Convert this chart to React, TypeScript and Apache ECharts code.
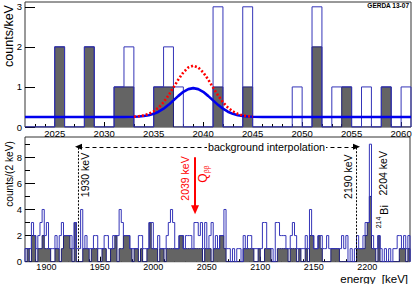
import React, { useEffect, useRef } from 'react';
import * as echarts from 'echarts';

// ---------- upper panel: 1 keV bins starting at 2022 keV ----------
const topBinStart = 2022;
const topBinWidth = 1;
// open histogram (without PSD), counts per 1 keV bin, bins 2022..2060
const topOpen = [0, 0, 0, 2, 0, 0, 2, 0, 0, 1, 2, 0, 0, 1, 2, 1, 0, 0, 0, 3, 0, 0, 3, 0, 0, 0, 0, 1, 0, 3, 0, 1, 1, 0, 1, 0, 1, 0, 1];
// filled histogram (with PSD)
const topDark = [0, 0, 0, 2, 0, 0, 2, 0, 0, 1, 1, 0, 0, 1, 1, 0, 0, 0, 0, 1, 0, 0, 1, 0, 0, 0, 0, 0, 0, 2, 0, 0, 1, 0, 0, 0, 1, 0, 0];
const topXLabels = [2025, 2030, 2035, 2040, 2045, 2050, 2055, 2060];
const topYLabels = [0, 1, 2, 3];

// expectation curves (counts/keV)
const blueCurveE = [2022, 2032, 2033, 2033.5, 2034, 2034.5, 2035, 2035.5, 2036, 2036.5, 2037, 2037.5, 2038, 2038.5, 2039, 2039.5, 2040, 2040.5, 2041, 2041.5, 2042, 2042.5, 2043, 2043.5, 2044, 2044.5, 2045, 2046, 2061];
const blueCurveY = [0.25, 0.251, 0.255, 0.261, 0.273, 0.294, 0.328, 0.382, 0.457, 0.553, 0.664, 0.777, 0.877, 0.945, 0.97, 0.945, 0.877, 0.777, 0.664, 0.553, 0.457, 0.382, 0.328, 0.294, 0.273, 0.261, 0.255, 0.251, 0.25];
const redCurveE = [2033, 2033.5, 2034, 2034.5, 2035, 2035.5, 2036, 2036.5, 2037, 2037.5, 2038, 2038.5, 2039, 2039.5, 2040, 2040.5, 2041, 2041.5, 2042, 2042.5, 2043, 2043.5, 2044, 2044.5, 2045];
const redCurveY = [0.259, 0.27, 0.29, 0.327, 0.39, 0.485, 0.618, 0.789, 0.986, 1.187, 1.365, 1.486, 1.53, 1.486, 1.365, 1.187, 0.986, 0.789, 0.618, 0.485, 0.39, 0.327, 0.29, 0.27, 0.259];

// ---------- lower panel: 2 keV bins starting at 1880 keV ----------
const bottomBinStart = 1880;
const bottomBinWidth = 2;
const bottomOpen = [
  1, 1, 1, 3, 2, 1, 2, 3, 4, 2,
  3, 1, 1, 1, 2, 1, 2, 3, 2, 2,
  2, 2, 1, 3, 1, 1, 4, 1, 2, 1,
  1, 1, 2, 2, 1, 1, 1, 2, 2, 1,
  1, 2, 2, 2, 4, 3, 2, 2, 2, 1,
  1, 1, 1, 2, 2, 1, 1, 1, 3, 3,
  1, 1, 2, 1, 1, 1, 2, 3, 4, 3,
  1, 1, 2, 2, 1, 2, 2, 2, 1, 3,
  3, 2, 3, 1, 3, 1, 2, 3, 1, 2,
  1, 2, 2, 4, 1, 1, 0, 1, 0, 1,
  1, 0, 2, 1, 2, 2, 1, 1, 1, 1,
  1, 3, 3, 1, 1, 1, 0, 3, 3, 2,
  2, 2, 1, 1, 2, 3, 2, 1, 1, 1,
  1, 2, 1, 4, 2, 1, 1, 2, 2, 1,
  1, 2, 1, 1, 1, 1, 1, 1, 2, 1,
  2, 0, 1, 0, 1, 2, 1, 1, 2, 3,
  3, 9, 2, 1, 1, 2, 1, 0, 1, 0,
  1, 0, 1, 1, 2, 2, 1, 2, 1, 2,
];
const bottomDark = [
  0, 1, 0, 2, 2, 0, 1, 1, 2, 1,
  1, 1, 0, 0, 1, 1, 0, 1, 2, 2,
  2, 1, 0, 3, 0, 0, 0, 1, 1, 1,
  0, 1, 1, 1, 0, 0, 1, 1, 0, 0,
  1, 1, 2, 0, 1, 1, 2, 2, 2, 1,
  0, 1, 1, 0, 1, 0, 0, 1, 3, 1,
  1, 1, 0, 1, 1, 0, 1, 1, 1, 1,
  1, 1, 2, 2, 1, 1, 1, 1, 1, 1,
  1, 1, 1, 0, 1, 1, 1, 0, 1, 1,
  1, 2, 2, 1, 0, 0, 0, 0, 0, 0,
  0, 0, 1, 1, 1, 1, 1, 0, 0, 1,
  0, 0, 1, 1, 1, 0, 0, 0, 1, 1,
  1, 1, 1, 0, 1, 1, 1, 0, 1, 0,
  0, 1, 0, 2, 2, 1, 1, 2, 1, 0,
  0, 0, 0, 1, 1, 1, 1, 0, 0, 0,
  0, 0, 0, 0, 0, 1, 1, 1, 1, 2,
  3, 5, 1, 1, 0, 2, 0, 0, 0, 0,
  0, 0, 0, 0, 0, 1, 1, 1, 0, 1,
];
const bottomXLabels = [1900, 1950, 2000, 2050, 2100, 2150, 2200];
const bottomYLabels = [0, 2, 4, 6, 8];
const bottomYMinor = [1, 3, 5, 7, 9];
const bgWindow = [1930, 2190];
const arrowLevel = 8.8;
const qbb = 2039;
const qArrow = [8.0, 3.97];

const FONT = '"Liberation Sans", Arial, Helvetica, sans-serif';

function stepData(start: number, width: number, vals: number[]) {
  const pts: number[][] = [[start, 0]];
  vals.forEach((v, i) => pts.push([start + i * width, v]));
  const end = start + vals.length * width;
  pts.push([end, vals[vals.length - 1]]);
  pts.push([end, 0]);
  return pts;
}

function range(a: number, b: number, step: number, skip: number) {
  const out: number[] = [];
  for (let v = a; v <= b; v += step) if (v % skip !== 0) out.push(v);
  return out;
}

const OPEN_COLOR = '#3535b8';
const DARK_FILL = '#646464';
const DARK_LINE = '#1c1c78';

function rotText(text: string, x: number, y: number, size: number, fill = '#000') {
  return {
    type: 'text',
    x,
    y,
    rotation: Math.PI / 2,
    silent: true,
    z: 100,
    style: {
      text,
      fontSize: size,
      fontFamily: FONT,
      fill,
      align: 'center',
      verticalAlign: 'middle',
      textAlign: 'center',
      textVerticalAlign: 'middle',
    },
  };
}

const plain = (v: number) => String(v);

export default function App() {
  const ref = useRef<HTMLDivElement>(null);
  useEffect(() => {
    const chart = echarts.init(ref.current!, null, { renderer: 'svg' });
    const tickStyle = { color: '#000', width: 1 };
    const noAxis = { axisLine: { show: false }, splitLine: { show: false } };
    const option: any = {
      animation: false,
      textStyle: { fontFamily: FONT },
      grid: [
        { left: 25, top: 2, width: 386, height: 125, show: true, borderColor: '#333', borderWidth: 1, backgroundColor: 'transparent' },
        { left: 25, top: 137, width: 385, height: 124.7, show: true, borderColor: '#333', borderWidth: 1, backgroundColor: 'transparent' },
      ],
      xAxis: [
        {
          gridIndex: 0, type: 'value', min: 2022, max: 2061, position: 'bottom', ...noAxis,
          axisTick: { inside: true, length: 5, lineStyle: tickStyle, customValues: topXLabels },
          axisLabel: { customValues: topXLabels, formatter: plain, fontSize: 9.5, color: '#000', margin: 1, fontFamily: FONT },
        },
        {
          gridIndex: 0, type: 'value', min: 2022, max: 2061, position: 'bottom', ...noAxis,
          axisTick: { inside: true, length: 3, lineStyle: tickStyle, customValues: range(2023, 2060, 1, 5) },
          axisLabel: { show: false },
        },
        {
          gridIndex: 1, type: 'value', min: 1880, max: 2240, position: 'bottom', ...noAxis,
          axisTick: { inside: true, length: 5, lineStyle: tickStyle, customValues: bottomXLabels },
          axisLabel: { customValues: bottomXLabels, formatter: plain, fontSize: 9, lineHeight: 9, color: '#000', margin: 1, fontFamily: FONT },
        },
        {
          gridIndex: 1, type: 'value', min: 1880, max: 2240, position: 'bottom', ...noAxis,
          axisTick: { inside: true, length: 2.5, lineStyle: tickStyle, customValues: range(1890, 2230, 10, 50) },
          axisLabel: { show: false },
        },
      ],
      yAxis: [
        {
          gridIndex: 0, type: 'value', min: 0, max: 3.12, position: 'left', ...noAxis,
          axisTick: { inside: true, length: 10, lineStyle: tickStyle, customValues: topYLabels },
          axisLabel: { customValues: topYLabels, formatter: plain, fontSize: 9.5, color: '#000', margin: 3, fontFamily: FONT },
        },
        {
          gridIndex: 1, type: 'value', min: 0, max: 9.55, position: 'left', ...noAxis,
          axisTick: { inside: true, length: 10, lineStyle: tickStyle, customValues: bottomYLabels },
          axisLabel: { customValues: bottomYLabels, formatter: plain, fontSize: 9.5, color: '#000', margin: 3, fontFamily: FONT },
        },
        {
          gridIndex: 1, type: 'value', min: 0, max: 9.55, position: 'left', ...noAxis,
          axisTick: { inside: true, length: 5, lineStyle: tickStyle, customValues: bottomYMinor },
          axisLabel: { show: false },
        },
      ],
      series: [
        {
          type: 'line', xAxisIndex: 0, yAxisIndex: 0, step: 'end', silent: true, showSymbol: false, symbol: 'none',
          data: stepData(topBinStart, topBinWidth, topDark),
          lineStyle: { color: DARK_LINE, width: 1 },
          areaStyle: { color: DARK_FILL, opacity: 1 },
        },
        {
          type: 'line', xAxisIndex: 0, yAxisIndex: 0, step: 'end', silent: true, showSymbol: false, symbol: 'none',
          data: stepData(topBinStart, topBinWidth, topOpen),
          lineStyle: { color: OPEN_COLOR, width: 1 },
        },
        {
          type: 'line', xAxisIndex: 0, yAxisIndex: 0, silent: true, showSymbol: false, symbol: 'none',
          data: blueCurveE.map((e, i) => [e, blueCurveY[i]]),
          lineStyle: { color: '#0000ee', width: 2.6 },
        },
        {
          type: 'line', xAxisIndex: 0, yAxisIndex: 0, silent: true, showSymbol: false, symbol: 'none',
          data: redCurveE.map((e, i) => [e, redCurveY[i]]),
          lineStyle: { color: '#ff0000', width: 2.6, type: [2, 2] },
        },
        {
          type: 'line', xAxisIndex: 2, yAxisIndex: 1, step: 'end', silent: true, showSymbol: false, symbol: 'none',
          data: stepData(bottomBinStart, bottomBinWidth, bottomDark),
          lineStyle: { color: DARK_LINE, width: 1 },
          areaStyle: { color: DARK_FILL, opacity: 1 },
        },
        {
          type: 'line', xAxisIndex: 2, yAxisIndex: 1, step: 'end', silent: true, showSymbol: false, symbol: 'none',
          data: stepData(bottomBinStart, bottomBinWidth, bottomOpen),
          lineStyle: { color: OPEN_COLOR, width: 1 },
        },
        ...bgWindow.map((e) => ({
          type: 'line', xAxisIndex: 2, yAxisIndex: 1, silent: true, showSymbol: false, symbol: 'none',
          data: [[e, 0], [e, arrowLevel]],
          lineStyle: { color: '#000', width: 1, type: [2, 1.5] },
          z: 5,
        })),
        {
          type: 'line', xAxisIndex: 2, yAxisIndex: 1, silent: true, showSymbol: false, symbol: 'none',
          data: [],
          z: 6,
          markLine: {
            silent: true,
            symbol: ['triangle', 'triangle'],
            symbolSize: [6, 7],
            label: { show: false },
            lineStyle: { color: '#000', width: 1, type: [4, 3] },
            data: [[{ coord: [bgWindow[0], arrowLevel] }, { coord: [bgWindow[1], arrowLevel] }]],
          },
        },
        {
          type: 'line', xAxisIndex: 2, yAxisIndex: 1, silent: true, showSymbol: false, symbol: 'none',
          data: [],
          z: 6,
          markLine: {
            silent: true,
            symbol: ['none', 'triangle'],
            symbolSize: [8, 9],
            label: { show: false },
            lineStyle: { color: '#ff0000', width: 2, type: 'solid' },
            data: [[{ coord: [qbb, qArrow[0]] }, { coord: [qbb, qArrow[1]] }]],
          },
        },
      ],
      graphic: {
        elements: [
          rotText('counts/keV', 8.5, 36, 12.5),
          rotText('counts/(2 keV)', 9, 174, 10.2),
          {
            type: 'text', x: 409, y: 5.5, silent: true, z: 100,
            style: { text: 'GERDA 13-07', fontSize: 6.5, fontWeight: 'bold', fontFamily: FONT, fill: '#000', align: 'right', verticalAlign: 'middle', textAlign: 'right', textVerticalAlign: 'middle' },
          },
          {
            type: 'text', x: 408, y: 278.6, silent: true, z: 100,
            style: { text: 'energy  [keV]', fontSize: 11.5, lineHeight: 11, fontFamily: FONT, fill: '#000', align: 'right', verticalAlign: 'middle', textAlign: 'right', textVerticalAlign: 'middle' },
          },
          {
            type: 'text', x: 266.5, y: 146.8, silent: true, z: 100,
            style: { text: 'background interpolation', fontSize: 10.7, fontFamily: FONT, fill: '#000', backgroundColor: '#fff', padding: [0, 1], align: 'center', verticalAlign: 'middle', textAlign: 'center', textVerticalAlign: 'middle' },
          },
          rotText('1930 keV', 85, 175, 10.5),
          rotText('2039 keV', 185, 178.5, 10.5, '#ff0000'),
          rotText('2190 keV', 348.3, 176.7, 10.5),
          rotText('2204 keV', 383, 173.3, 10.5),
          {
            type: 'group', x: 203, y: 178, rotation: Math.PI / 2, silent: true, z: 100,
            children: [
              { type: 'text', x: 0, y: 0, style: { text: 'Q', fontSize: 12, fontFamily: FONT, fill: '#ff0000', align: 'center', verticalAlign: 'middle', textAlign: 'center', textVerticalAlign: 'middle' } },
              { type: 'text', x: 5, y: 3.5, style: { text: 'ββ', fontSize: 6.5, fontFamily: FONT, fill: '#ff0000', align: 'left', verticalAlign: 'middle', textAlign: 'left', textVerticalAlign: 'middle' } },
            ],
          },
          {
            type: 'group', x: 384, y: 210, rotation: Math.PI / 2, silent: true, z: 100,
            children: [
              { type: 'text', x: 0, y: 0, style: { text: 'Bi', fontSize: 11, fontFamily: FONT, fill: '#000', align: 'center', verticalAlign: 'middle', textAlign: 'center', textVerticalAlign: 'middle' } },
              { type: 'text', x: -12.5, y: -5.3, style: { text: '214', fontSize: 7, fontFamily: FONT, fill: '#000', align: 'center', verticalAlign: 'middle', textAlign: 'center', textVerticalAlign: 'middle' } },
            ],
          },
        ],
      },
    };
    chart.setOption(option);
    return () => chart.dispose();
  }, []);
  return <div ref={ref} style={{ position: 'absolute', left: 0, top: 0, width: 415, height: 284, background: '#fff' }} />;
}
